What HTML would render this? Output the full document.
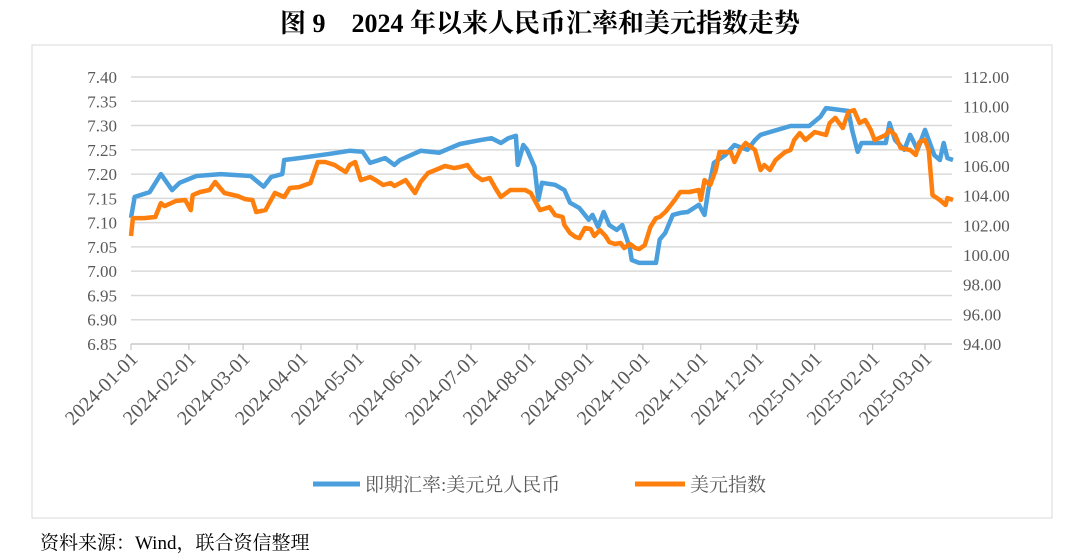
<!DOCTYPE html>
<html><head><meta charset="utf-8"><style>
html,body{margin:0;padding:0;background:#fff;}
body{width:1080px;height:560px;position:relative;overflow:hidden;font-family:"Liberation Serif","Noto Serif CJK SC",serif;}
#title{position:absolute;left:0;width:1080px;top:3px;text-align:center;font-size:26px;font-weight:bold;color:#000;}
#src{position:absolute;left:40px;top:528px;font-size:19px;color:#000;}
</style></head><body>
<div id="title">图 9　2024 年以来人民币汇率和美元指数走势</div>
<svg id="chart" width="1080" height="560" style="position:absolute;left:0;top:0"></svg>
<div id="src">资料来源：Wind，联合资信整理</div>
<script>
const xTickLabels=["2024-01-01","2024-02-01","2024-03-01","2024-04-01","2024-05-01","2024-06-01","2024-07-01","2024-08-01","2024-09-01","2024-10-01","2024-11-01","2024-12-01","2025-01-01","2025-02-01","2025-03-01"];
const xTickDays=[0,31,60,91,121,152,182,213,244,274,305,335,366,397,425];
const leftTicks=[7.40,7.35,7.30,7.25,7.20,7.15,7.10,7.05,7.00,6.95,6.90,6.85];
const rightTicks=[112,110,108,106,104,102,100,98,96,94];
const cnyDays=[0,2,10,16,22,26,35,48,64,71,75,81,82,90,107,117,124,128,136,141,144,155,165,176,187,193,198,202,206,207,210,212,216,218,220,227,232,235,240,245,247,250,253,256,260,263,267,268,272,281,283,286,290,294,298,304,307,309,312,318,323,327,330,334,337,353,363,369,372,384,386,389,391,404,406,409,414,417,421,425,430,433,435,437,440];
const cnyValues=[7.110,7.153,7.163,7.200,7.167,7.182,7.196,7.200,7.196,7.174,7.194,7.200,7.229,7.233,7.242,7.248,7.246,7.223,7.233,7.219,7.229,7.248,7.244,7.262,7.270,7.274,7.264,7.274,7.279,7.219,7.260,7.250,7.215,7.147,7.182,7.178,7.167,7.141,7.130,7.106,7.116,7.091,7.122,7.095,7.085,7.095,7.048,7.023,7.017,7.017,7.065,7.079,7.116,7.120,7.122,7.137,7.116,7.167,7.223,7.239,7.260,7.254,7.250,7.270,7.281,7.299,7.299,7.318,7.336,7.330,7.291,7.246,7.264,7.264,7.305,7.270,7.250,7.281,7.250,7.291,7.239,7.229,7.264,7.233,7.229];
const dxyDays=[0,1,7,13,16,18,24,29,32,33,37,42,45,50,57,61,65,67,72,74,77,82,85,90,96,100,104,109,115,117,120,123,128,131,135,139,141,147,152,155,159,163,168,173,176,180,184,188,192,195,198,203,211,214,216,219,224,227,231,232,235,238,240,243,246,248,251,254,256,259,262,264,267,270,272,275,278,281,283,286,289,291,294,299,304,305,307,310,313,315,321,323,326,329,334,337,339,342,345,350,353,355,358,361,366,372,374,377,381,384,387,390,393,396,398,404,406,409,412,417,420,422,425,427,429,433,436,437,440];
const dxyValues=[101.28,102.49,102.49,102.56,103.50,103.30,103.64,103.71,103.03,104.04,104.25,104.38,104.92,104.18,103.98,103.77,103.71,102.90,103.03,103.50,104.18,103.91,104.52,104.58,104.85,106.27,106.27,106.07,105.59,106.07,106.27,105.05,105.26,105.05,104.72,104.85,104.65,105.05,104.18,104.92,105.53,105.73,106.00,105.86,105.93,106.07,105.39,105.05,105.19,104.52,103.91,104.38,104.38,104.18,103.71,103.03,103.23,102.69,102.56,102.02,101.48,101.21,101.14,101.82,101.75,101.28,101.68,101.28,100.87,100.74,100.81,100.47,100.74,100.47,100.40,100.67,101.89,102.49,102.56,102.90,103.37,103.71,104.25,104.25,104.38,103.71,105.05,104.72,105.73,106.94,106.94,106.27,107.08,107.55,107.08,105.73,106.07,105.73,106.40,106.94,107.08,107.75,108.22,107.75,108.29,108.09,108.90,109.24,108.56,109.64,109.77,108.90,109.10,108.43,107.75,108.09,108.43,108.09,107.21,107.08,106.74,107.62,107.75,107.08,104.04,103.71,103.37,103.84,103.71];

const NS="http://www.w3.org/2000/svg";
const svg=document.getElementById('chart');
const X0=131,PXD=(925-131)/425;
const xS=d=>X0+d*PXD;
const yL=v=>77+(7.40-v)/0.55*267;
const yR=v=>77+(112-v)/18*267;
function mk(t,a,p){const e=document.createElementNS(NS,t);for(const k in a)e.setAttribute(k,a[k]);(p||svg).appendChild(e);return e;}
const frame=mk('rect',{x:32,y:45,width:1020,height:473,fill:'none',stroke:'#d9d9d9','stroke-width':1});


const font='"Liberation Serif","Noto Serif CJK SC",serif';
leftTicks.forEach(v=>{
  const y=yL(v);
  const g=mk('line',{x1:131,x2:952,y1:y,y2:y,stroke:'#d9d9d9','stroke-width':1.5});
  
  
  const t=mk('text',{x:117,y:y+6,'text-anchor':'end','font-size':17,fill:'#595959','font-family':font});
  t.textContent=v.toFixed(2);
  
  
});
rightTicks.forEach(v=>{
  const t=mk('text',{x:963,y:yR(v)+6,'font-size':17,fill:'#595959','font-family':font});
  t.textContent=v.toFixed(2);
  
  
});
const ax=mk('line',{x1:131,x2:952,y1:yL(6.85),y2:yL(6.85),stroke:'#bfbfbf','stroke-width':1});


xTickDays.forEach((d,i)=>{
  const x=xS(d);
  const tk=mk('line',{x1:x,x2:x,y1:344,y2:350,stroke:'#bfbfbf'});
  
  
  const ax_=x+8, ay=360;
  const t=mk('text',{x:ax_,y:ay,'text-anchor':'end','font-size':20,fill:'#595959','font-family':font,transform:`rotate(-45 ${ax_} ${ay})`});
  t.textContent=xTickLabels[i];
  
  
});
function line(days,vals,ys,color,name){
  const pts=days.map((d,i)=>xS(d).toFixed(1)+','+ys(vals[i]).toFixed(1)).join(' ');
  const p=mk('polyline',{points:pts,fill:'none',stroke:color,'stroke-width':4.5,'stroke-linejoin':'round'});
  
  
}
line(cnyDays,cnyValues,yL,'#4a9fdc','usdcny-line');
line(dxyDays,dxyValues,yR,'#ff7f0e','dollar-index-line');
const lg1=mk('line',{x1:313,x2:360,y1:484,y2:484,stroke:'#4a9fdc','stroke-width':5});


const lt1=mk('text',{x:365,y:491,'font-size':19,fill:'#595959','font-family':font});
lt1.textContent='即期汇率:美元兑人民币';


const lg2=mk('line',{x1:635,x2:685,y1:484,y2:484,stroke:'#ff7f0e','stroke-width':5});


const lt2=mk('text',{x:690,y:491,'font-size':19,fill:'#595959','font-family':font});
lt2.textContent='美元指数';


</script>
</body></html>
